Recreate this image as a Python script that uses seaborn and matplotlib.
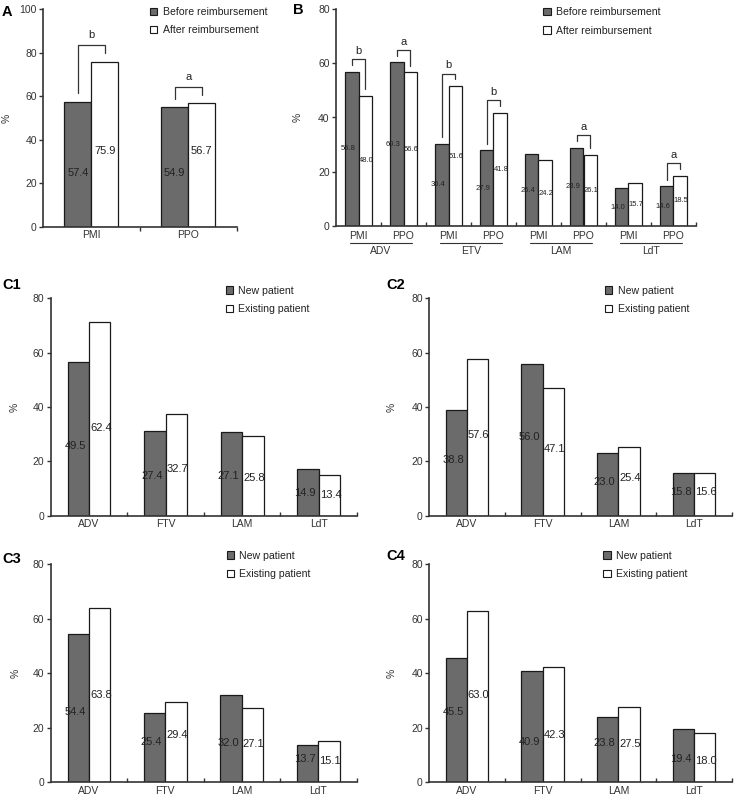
import numpy as np
import pandas as pd
import seaborn as sns
import matplotlib.pyplot as plt
from matplotlib.patches import Patch

# ---- data ----
# A: overall share before / after reimbursement
a_types = ['PMI', 'PPO']
a_before = [57.4, 54.9]
a_after = [75.9, 56.7]
a_sig = ['b', 'a']

# B: per drug, PMI / PPO
b_drugs = ['ADV', 'ETV', 'LAM', 'LdT']
b_types = ['PMI', 'PPO']
b_before = [56.8, 60.3, 30.4, 27.9, 26.4, 28.9, 14.0, 14.6]
b_after = [48.0, 56.6, 51.6, 41.8, 24.2, 26.1, 15.7, 18.5]
b_sig = ['b', 'a', 'b', 'b', '', 'a', '', 'a']

# C1-C4: new vs existing patients
c_drugs = ['ADV', 'FTV', 'LAM', 'LdT']
c1_new = [56.7, 31.2, 30.9, 17.1]        # bar heights as drawn in C1
c1_old = [71.4, 37.3, 29.4, 15.1]
c1_new_lab = [49.5, 27.4, 27.1, 14.9]    # numbers printed on C1 bars
c1_old_lab = [62.4, 32.7, 25.8, 13.4]
c2_new = [38.8, 56.0, 23.0, 15.8]
c2_old = [57.6, 47.1, 25.4, 15.6]
c3_new = [54.4, 25.4, 32.0, 13.7]
c3_old = [63.8, 29.4, 27.1, 15.1]
c4_new = [45.5, 40.9, 23.8, 19.4]
c4_old = [63.0, 42.3, 27.5, 18.0]

reimb_names = ['Before reimbursement', 'After reimbursement']
patient_names = ['New patient', 'Existing patient']

# ---- style ----
W, H = 737, 800
DARK = '#6b6b6b'
EDGE = '#1a1a1a'
AXC = '#333333'
TICK_FS = 7.5

sns.set_style('ticks')
plt.rcParams['font.family'] = ['Liberation Sans', 'DejaVu Sans']
plt.rcParams['axes.edgecolor'] = AXC
plt.rcParams['axes.linewidth'] = 1.2
plt.rcParams['xtick.color'] = AXC
plt.rcParams['ytick.color'] = AXC
plt.rcParams['text.color'] = '#222222'

fig = plt.figure(figsize=(W / 100, H / 100), dpi=100)


def px_axes(left, top, right, bottom):
    return fig.add_axes([left / W, 1 - bottom / H, (right - left) / W, (bottom - top) / H])


def draw_bars(ax, cats, first, second, names, width):
    df = pd.DataFrame({
        'cat': list(cats) * 2,
        'val': list(first) + list(second),
        'grp': [names[0]] * len(cats) + [names[1]] * len(cats),
    })
    sns.barplot(data=df, x='cat', y='val', hue='grp', hue_order=names,
                palette=[DARK, 'white'], saturation=1, width=width,
                edgecolor=EDGE, linewidth=0.9, errorbar=None, legend=False, ax=ax)


def style_axes(ax, ymax, ystep, n, tick_dir, xpad, ylab_px, left_px, right_px):
    ax.set_xlim(-0.5, n - 0.5)
    ax.set_ylim(0, ymax)
    ax.set_yticks(np.arange(0, ymax + 1, ystep))
    sns.despine(ax=ax)
    ax.set_xlabel('')
    ax.set_ylabel('%', fontsize=TICK_FS, color=AXC)
    ax.yaxis.label.set_va('center')
    ax.yaxis.set_label_coords((ylab_px - left_px) / (right_px - left_px), 0.5)
    ax.tick_params(axis='x', which='major', length=0, pad=xpad, labelsize=TICK_FS)
    ax.set_xticks(np.arange(n) + 0.5, minor=True)
    ax.tick_params(axis='x', which='minor', length=3, width=1, direction=tick_dir)
    ax.tick_params(axis='y', length=3, width=1, pad=1.5, labelsize=TICK_FS)


def add_values(ax, labels, ys, size, dx):
    for cont, labs, yy, off in zip(ax.containers, labels, ys, dx):
        for bar, lab, y in zip(cont, labs, yy):
            ax.text(bar.get_x() + bar.get_width() / 2 + off, y, f'{lab:.1f}',
                    ha='center', va='center', fontsize=size)


def add_brackets(ax, first, second, sig, top_pad, gap, text_pad):
    c0, c1 = ax.containers
    for b0, b1, v0, v1, s in zip(c0, c1, first, second, sig):
        if not s:
            continue
        x0 = b0.get_x() + b0.get_width() / 2
        x1 = b1.get_x() + b1.get_width() / 2
        top = max(v0, v1) + top_pad
        ax.plot([x0, x0, x1, x1], [v0 + gap, top, top, v1 + gap], color=AXC, lw=0.9)
        ax.text((x0 + x1) / 2, top + text_pad, s, ha='center', va='center', fontsize=8)


def add_legend(names, x_px, y_px):
    handles = [Patch(facecolor=DARK, edgecolor=EDGE, lw=0.8),
               Patch(facecolor='white', edgecolor=EDGE, lw=0.8)]
    fig.legend(handles, names, loc='upper left', bbox_to_anchor=(x_px / W, 1 - y_px / H),
               frameon=False, borderpad=0, borderaxespad=0, handlelength=0.7,
               handleheight=0.7, handletextpad=0.5, labelspacing=0.78, fontsize=7.6)


def panel_letter(text, x_px, y_px):
    fig.text(x_px / W, 1 - y_px / H, text, fontsize=10.5, fontweight='bold',
             ha='left', va='center', color='black')


# ---- A ----
axA = px_axes(43, 9, 236.5, 227)
draw_bars(axA, a_types, a_before, a_after, reimb_names, 0.56)
style_axes(axA, 100, 20, 2, 'out', 2.5, 6.7, 43, 236.5)
add_values(axA, [a_before, a_after], [[25] * 2, [35] * 2], 8, [0, 0])
add_brackets(axA, a_before, a_after, a_sig, 7.5, 4, 4.5)
add_legend(reimb_names, 150, 7)
panel_letter('A', 2, 12.5)

# ---- B ----
axB = px_axes(336, 9, 696, 226)
b_keys = [f'{d}-{t}' for d in b_drugs for t in b_types]
draw_bars(axB, b_keys, b_before, b_after, reimb_names, 0.58)
style_axes(axB, 80, 20, len(b_keys), 'in', 3.5, 297.5, 336, 696)
axB.set_xticks(range(len(b_keys)), b_types * len(b_drugs))
add_values(axB, [b_before, b_after],
           [[v / 2 for v in b_before], [v / 2 for v in b_after]], 5.5, [-0.09, 0.03])
add_brackets(axB, b_before, b_after, b_sig, 4.6, 2.5, 3.1)
tr = axB.get_xaxis_transform()
for i, d in enumerate(b_drugs):
    mid = 2 * i + 0.5
    axB.plot([mid - 0.69, mid + 0.69], [-0.078, -0.078], transform=tr,
             color=AXC, lw=0.8, clip_on=False)
    axB.text(mid, -0.114, d, transform=tr, ha='center', va='center',
             fontsize=TICK_FS, color=AXC)
add_legend(reimb_names, 543.3, 7.3)
panel_letter('B', 293, 10)

# ---- C1..C4 ----
c_panels = [
    ('C1', (50.7, 298.3, 357, 515.7), c1_new, c1_old, c1_new_lab, c1_old_lab, c1_new_lab, c1_old_lab),
    ('C2', (429, 298.3, 732, 515.7), c2_new, c2_old, c2_new, c2_old, c2_new, c2_old),
    ('C3', (50.7, 564.3, 356.5, 782.3), c3_new, c3_old, c3_new, c3_old, c1_new_lab, c1_old_lab),
    ('C4', (429, 564.3, 732, 782.3), c4_new, c4_old, c4_new, c4_old, c1_new_lab, c1_old_lab),
]
ylab_x = {'C1': 15, 'C2': 391.7, 'C3': 15.5, 'C4': 391.7}
letter_pos = {'C1': (2, 285), 'C2': (386.7, 285), 'C3': (2, 559), 'C4': (386.7, 556)}
legend_pos = {'C1': (225.7, 285.7), 'C2': (605, 285.7), 'C3': (226.7, 550.7), 'C4': (603.3, 550.7)}

for name, box, new, old, new_lab, old_lab, anc_new, anc_old in c_panels:
    ax = px_axes(*box)
    draw_bars(ax, c_drugs, new, old, patient_names, 0.56)
    style_axes(ax, 80, 20, 4, 'in', 2.5, ylab_x[name], box[0], box[2])
    # printed values sit near the middle of the bars
    add_values(ax, [new_lab, old_lab],
               [[v / 2 + 1 for v in anc_new], [v / 2 + 1 for v in anc_old]], 8, [-0.04, 0.015])
    add_legend(patient_names, *legend_pos[name])
    panel_letter(name, *letter_pos[name])

fig.savefig('out.png', dpi=100)
